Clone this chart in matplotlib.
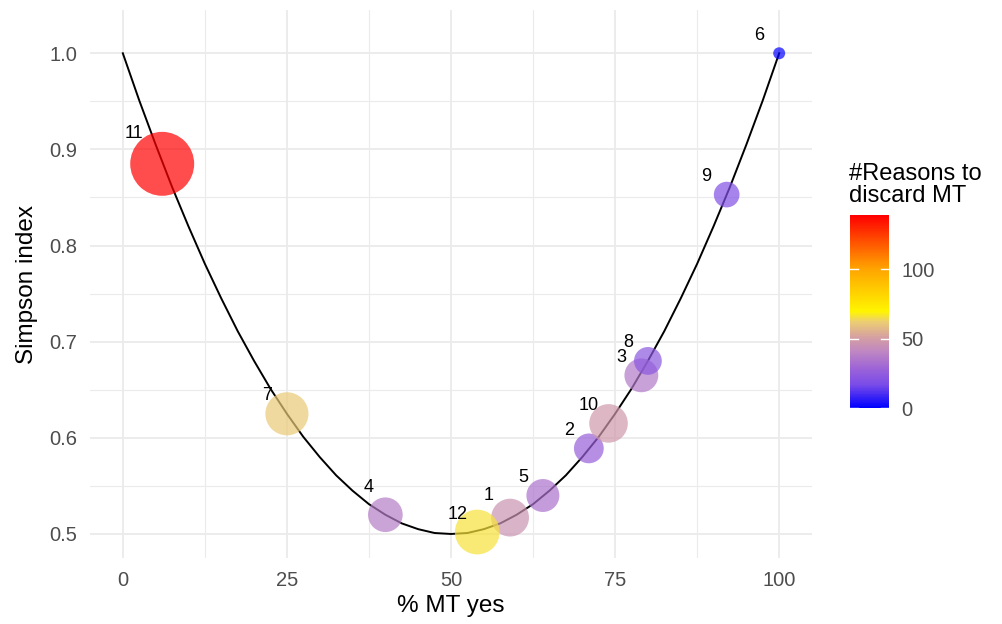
import numpy as np
import matplotlib
matplotlib.use("Agg")
import matplotlib.pyplot as plt
from matplotlib.colors import LinearSegmentedColormap, Normalize
from matplotlib.cm import ScalarMappable

plt.rcParams['font.family'] = ['Liberation Sans', 'DejaVu Sans']

# data
ids = ["1", "2", "3", "4", "5", "6", "7", "8", "9", "10", "11", "12"]
pct_yes = [59, 71, 79, 40, 64, 100, 25, 80, 92, 74, 6, 54]
simpson = [0.517, 0.589, 0.665, 0.520, 0.540, 1.000, 0.625, 0.680, 0.853, 0.615, 0.885, 0.502]
reasons = [46, 27, 36, 38, 34, 1, 61, 23, 19, 48, 139, 66]

# reference curve, read at steps of 2.5
curve_x = [0, 2.5, 5, 7.5, 10, 12.5, 15, 17.5, 20, 22.5, 25, 27.5, 30, 32.5, 35, 37.5,
           40, 42.5, 45, 47.5, 50, 52.5, 55, 57.5, 60, 62.5, 65, 67.5, 70, 72.5, 75,
           77.5, 80, 82.5, 85, 87.5, 90, 92.5, 95, 97.5, 100]
curve_y = [1.0, 0.951, 0.905, 0.861, 0.82, 0.781, 0.745, 0.711, 0.68, 0.651, 0.625,
           0.601, 0.58, 0.561, 0.545, 0.531, 0.52, 0.511, 0.505, 0.501, 0.50, 0.501,
           0.505, 0.511, 0.52, 0.531, 0.545, 0.561, 0.58, 0.601, 0.625, 0.651, 0.68,
           0.711, 0.745, 0.781, 0.82, 0.861, 0.905, 0.951, 1.0]

cmap = LinearSegmentedColormap.from_list("reasons", [
    (0.00, "#0000FF"), (0.12, "#7A4CE8"), (0.20, "#9B62D8"), (0.29, "#BE86C2"),
    (0.37, "#D6A2A0"), (0.45, "#EDD070"), (0.50, "#FFF500"), (0.72, "#FFA500"),
    (1.00, "#FF0000")])
norm = Normalize(vmin=0, vmax=139)

fig = plt.figure(figsize=(10.03, 6.24), dpi=100)
ax = fig.add_axes([90/1003, 66/624, 722/1003, 548/624])

ax.set_xlim(-5, 105)
ax.set_ylim(0.475, 1.045)
for s in ax.spines.values():
    s.set_visible(False)
ax.set_xticks([0, 25, 50, 75, 100])
ax.set_xticks([12.5, 37.5, 62.5, 87.5], minor=True)
ax.set_yticks([0.5, 0.6, 0.7, 0.8, 0.9, 1.0])
ax.set_yticks([0.55, 0.65, 0.75, 0.85, 0.95], minor=True)
ax.set_yticklabels(["0.5", "0.6", "0.7", "0.8", "0.9", "1.0"])
ax.grid(which="major", color="#EBEBEB", lw=1.3)
ax.grid(which="minor", color="#EBEBEB", lw=0.8)
ax.set_axisbelow(True)
ax.tick_params(which="both", length=0, labelsize=14.5, labelcolor="#4D4D4D")
ax.tick_params(axis="x", pad=9)
ax.tick_params(axis="y", pad=9)

ax.plot(curve_x, curve_y, color="black", lw=1.4, zorder=2)

v = np.array(reasons, dtype=float)
rad2 = 28.8 + 7.16 * v          # squared radius in pixels, area scales with value
sizes = 2.07 * rad2
ax.scatter(pct_yes, simpson, s=sizes, c=v, cmap=cmap, norm=norm, alpha=0.7,
           linewidths=0, zorder=3)

offsets = {"11": (-28, 30), "4": (-17, 27), "1": (-21, 22)}
for i, x, y in zip(ids, pct_yes, simpson):
    dx, dy = offsets.get(i, (-20, 18))
    ax.annotate(i, (x, y), xytext=(dx, dy), textcoords="offset pixels",
                ha="center", va="center", fontsize=13, color="black", zorder=4)

ax.set_xlabel("% MT yes", fontsize=17.5, labelpad=4)
ax.set_ylabel("Simpson index", fontsize=17.5, labelpad=8)

cax = fig.add_axes([850/1003, (624-408)/624, 39/1003, 193/624])
cb = fig.colorbar(ScalarMappable(norm=norm, cmap=cmap), cax=cax, ticks=[0, 50, 100])
cb.outline.set_visible(False)
cax.tick_params(length=0, labelsize=14.5, labelcolor="#4D4D4D", pad=9)
for t in [0, 50, 100]:
    cax.plot([0, 0.2], [t, t], color="white", lw=1, transform=cax.get_yaxis_transform())
    cax.plot([0.8, 1], [t, t], color="white", lw=1, transform=cax.get_yaxis_transform())
fig.text(849/1003, 1 - 185/624, "#Reasons to\ndiscard MT", ha="left", va="center",
         fontsize=17, linespacing=1.05)

fig.savefig("out.png", dpi=100)
